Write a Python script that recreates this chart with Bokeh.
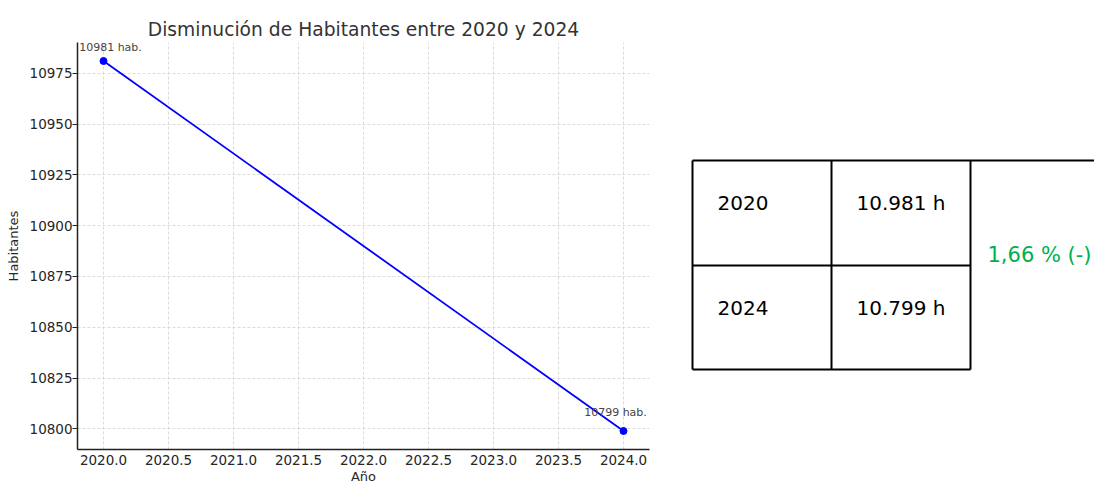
from bokeh.plotting import figure
from bokeh.models import (ColumnDataSource, Range1d, FixedTicker, PrintfTickFormatter,
                          Label)
from bokeh.layouts import row
from bokeh.embed import file_html
from bokeh.resources import INLINE
from bokeh.core.properties import value

# ---- data ----
years = [2020, 2024]
habitantes = [10981, 10799]
point_labels = ["10981 hab.", "10799 hab."]
x_ticks = [2020.0, 2020.5, 2021.0, 2021.5, 2022.0, 2022.5, 2023.0, 2023.5, 2024.0]
y_ticks = [10800, 10825, 10850, 10875, 10900, 10925, 10950, 10975]

table_years = ["2020", "2024"]
table_values = ["10.981 h", "10.799 h"]
change_text = ["1,66 % (-)"]

TITLE = "Disminución de Habitantes entre 2020 y 2024"
FONT = "DejaVu Sans"
TXT = "#262626"

H = 488
W1 = 670
W2 = 424
B_LEFT, B_RIGHT, B_TOP, B_BOTTOM = 77, 21, 42, 39

# ---- line chart ----
src = ColumnDataSource(dict(x=years, y=habitantes))

p = figure(width=W1, height=H, output_backend="svg", toolbar_location=None,
           x_range=Range1d(2019.8, 2024.2), y_range=Range1d(10789.9, 10990.1),
           title=TITLE)
p.min_border_left = B_LEFT
p.min_border_right = B_RIGHT
p.min_border_top = B_TOP
p.min_border_bottom = B_BOTTOM
p.outline_line_color = None
p.background_fill_color = "white"
p.border_fill_color = "white"

p.title.text_font = FONT
p.title.text_font_size = "18.7px"
p.title.text_font_style = "normal"
p.title.text_color = "#333333"
p.title.align = "center"
p.title.standoff = 6

p.xaxis.ticker = FixedTicker(ticks=x_ticks)
p.xaxis.formatter = PrintfTickFormatter(format="%.1f")
p.yaxis.ticker = FixedTicker(ticks=y_ticks)
p.xaxis.axis_label = "Año"
p.yaxis.axis_label = "Habitantes"
for ax in (p.xaxis, p.yaxis):
    ax.axis_line_color = "#222222"
    ax.axis_line_width = 1.5
    ax.major_label_text_font = FONT
    ax.major_label_text_font_size = "13.5px"
    ax.major_label_text_color = TXT
    ax.axis_label_text_font = FONT
    ax.axis_label_text_font_size = "13px"
    ax.axis_label_text_font_style = "normal"
    ax.axis_label_text_color = TXT
    ax.minor_tick_line_color = None
    ax.major_tick_line_color = "#222222"
p.xaxis.major_tick_in = 0
p.xaxis.major_tick_out = 0
p.xaxis.major_label_standoff = 5
p.xaxis.axis_label_standoff = 1
p.yaxis.major_tick_in = 0
p.yaxis.major_tick_out = 5
p.yaxis.major_label_standoff = 0
p.yaxis.axis_label_standoff = 6

p.grid.grid_line_color = "#d2d2d2"
p.grid.grid_line_dash = "3 2"
p.grid.grid_line_width = 0.8

p.line("x", "y", source=src, line_color="#0000ff", line_width=1.8)
p.scatter("x", "y", source=src, size=7, fill_color="#0000ff", line_color="#0000ff")

# small nudges keep the labels inside the plot frame (which clips them)
label_dx = [7, -8]
label_dy = [7, 12]
for xv, yv, lab, dx, dy in zip(years, habitantes, point_labels, label_dx, label_dy):
    p.add_layout(Label(x=xv, y=yv, text=lab, text_align="center",
                       text_baseline="bottom", x_offset=dx, y_offset=dy,
                       text_font=FONT, text_font_size="11px",
                       text_color="#444444"))

# ---- table (coordinates in page pixels) ----
COL_X = [692, 831, 970]      # left edges of the three columns
ROW_Y = [160, 265, 369]      # top, middle, bottom rule
TOP_RULE_END = 1094
TEXT_DY = 42                 # text centre below the row top
PAD_LEFT = 25

t = figure(width=W2, height=H, output_backend="svg", toolbar_location=None,
           x_range=Range1d(W1, W1 + W2),
           y_range=Range1d(H - B_BOTTOM, B_TOP),
           x_axis_location=None, y_axis_location=None)
t.min_border = 0
t.outline_line_color = None
t.grid.visible = False
t.border_fill_color = "white"

x0 = [COL_X[0], COL_X[0], COL_X[0], COL_X[1], COL_X[2], COL_X[0]]
x1 = [TOP_RULE_END, COL_X[2], COL_X[2], COL_X[1], COL_X[2], COL_X[0]]
y0 = [ROW_Y[0], ROW_Y[1], ROW_Y[2], ROW_Y[0], ROW_Y[0], ROW_Y[0]]
y1 = [ROW_Y[0], ROW_Y[1], ROW_Y[2], ROW_Y[2], ROW_Y[2], ROW_Y[2]]
t.segment(x0=x0, y0=y0, x1=x1, y1=y1, line_color="black", line_width=2)

row_text_y = [ROW_Y[0] + TEXT_DY, ROW_Y[1] + TEXT_DY]
TFONT = "DejaVu Sans"
t.text(x=[COL_X[0] + PAD_LEFT] * 2, y=row_text_y, text=table_years,
       text_align="left", text_baseline="middle", text_font=value(TFONT),
       text_font_size="20px", text_color="black")
t.text(x=[(COL_X[1] + COL_X[2]) / 2] * 2, y=row_text_y, text=table_values,
       text_align="center", text_baseline="middle", text_font=value(TFONT),
       text_font_size="20px", text_color="black")
t.text(x=[COL_X[2] + 17], y=[(ROW_Y[0] + ROW_Y[2]) / 2 - 10], text=change_text,
       text_align="left", text_baseline="middle", text_font=value(TFONT),
       text_font_size="21px", text_color="#00b050")

layout = row(p, t)
open("out.html", "w").write(file_html(layout, INLINE))
